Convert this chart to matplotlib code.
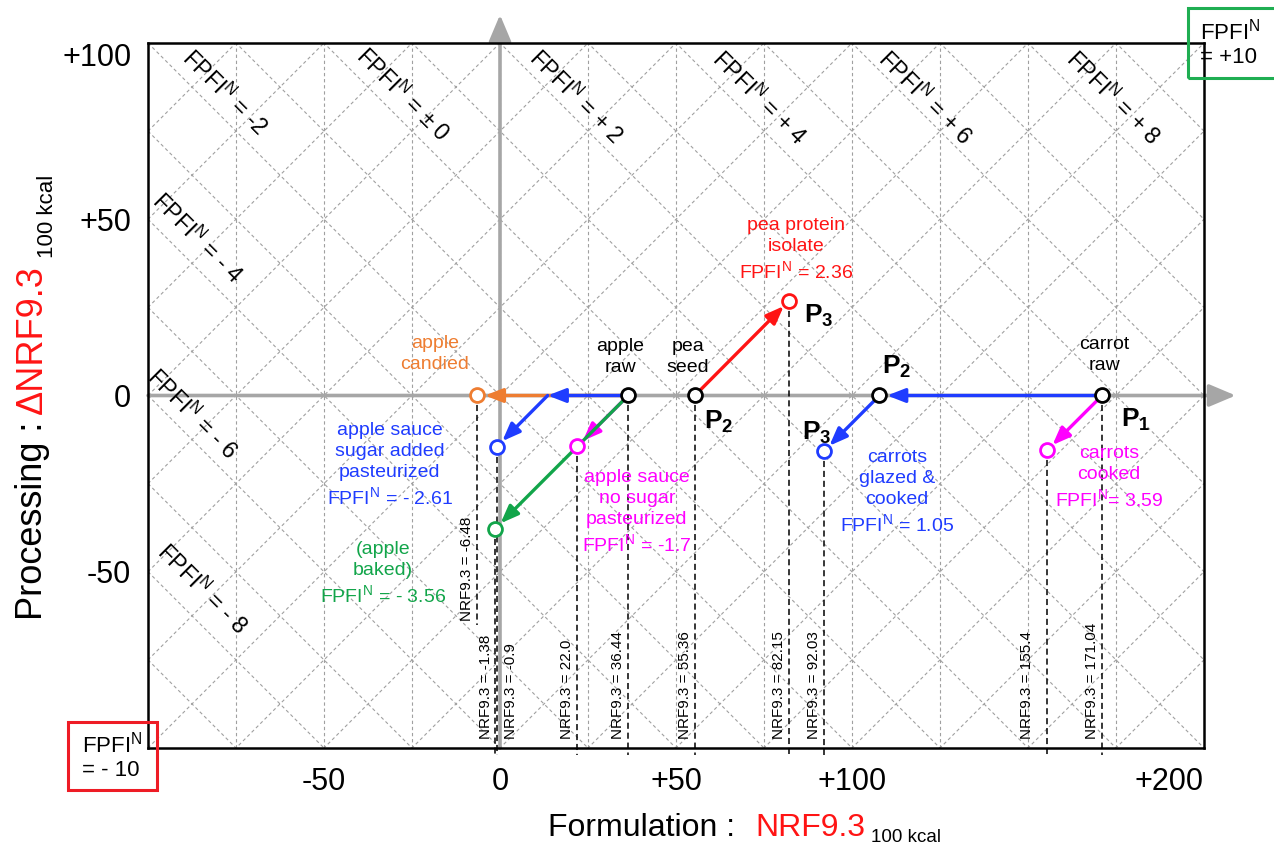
import numpy as np
import matplotlib
matplotlib.use('Agg')
import matplotlib.pyplot as plt
from matplotlib.patches import Rectangle

plt.rcParams['font.family'] = ['Liberation Sans', 'DejaVu Sans']
plt.rcParams['mathtext.fontset'] = 'custom'
plt.rcParams['mathtext.rm'] = 'Liberation Sans'
plt.rcParams['mathtext.bf'] = 'Liberation Sans:bold'
plt.rcParams['mathtext.it'] = 'Liberation Sans:italic'

# raw foods on the formulation axis
raw_labels = ['apple\nraw', 'pea\nseed', 'carrot\nraw']
raw_nrf = [36.44, 55.36, 171.04]

# processing paths: NRF9.3 (x) and delta NRF9.3 (y) of each step
prod_labels = [
    'apple\ncandied',
    'apple sauce\nsugar added\npasteurized\nFPFI$^{\\mathrm{N}}$ = - 2.61',
    'apple sauce\nno sugar\npasteurized\nFPFI$^{\\mathrm{N}}$ = -1.7',
    '(apple\nbaked)\nFPFI$^{\\mathrm{N}}$ = - 3.56',
    'pea protein\nisolate\nFPFI$^{\\mathrm{N}}$ = 2.36',
    'carrots\nglazed &\ncooked\nFPFI$^{\\mathrm{N}}$ = 1.05',
    'carrots\ncooked\nFPFI$^{\\mathrm{N}}$= 3.59',
]
prod_path_x = [[36.44, -6.48], [36.44, 13.54, -0.9], [36.44, 22.0], [36.44, -1.38],
               [55.36, 82.15], [171.04, 107.8, 92.03], [171.04, 155.4]]
prod_path_y = [[0, 0], [0, 0, -14.5], [0, -14.4], [0, -37.8],
               [0, 26.9], [0, 0, -15.8], [0, -15.6]]
prod_colors = ['#ee7d31', '#1f3cff', '#ff00ff', '#12a54a', '#ff1414', '#1f3cff', '#ff00ff']

# NRF9.3 values marked by the dashed drop lines
nrf_text = ['-6.48', '-1.38', '-0.9', '22.0', '36.44', '55.36', '82.15', '92.03', '155.4', '171.04']
nrf_top = [0, -37.8, -14.5, -14.4, 0, 0, 26.9, -15.8, -15.6, 0]

# iso-FPFI lines labels
fpfi_text = ['-2', '\u00b1 0', '+ 2', '+ 4', '+ 6', '+ 8', '- 4', '- 6', '- 8']

# layout of the text (data coordinates)
prod_text_xy = [(-18.5, 11.8), (-31.3, -19.7), (38.9, -33.0), (-33.2, -50.6),
                (84.1, 41.3), (112.8, -27.4), (173.0, -23.4)]
raw_text_xy = [(34.1, 10.9), (53.4, 10.9), (171.6, 11.5)]
p_text = ['$\\mathbf{P_2}$', '$\\mathbf{P_3}$', '$\\mathbf{P_2}$', '$\\mathbf{P_3}$', '$\\mathbf{P_1}$']
p_text_xy = [(62.0, -7.5), (90.5, 22.5), (112.8, 8.0), (90.1, -10.6), (180.6, -7.0)]
fpfi_text_xy = [(-78.4, 85.8), (-27.8, 85.2), (21.6, 84.7), (73.6, 84.4), (120.7, 84.4),
                (174.1, 84.4), (-86.1, 44.7), (-87.5, -5.2), (-84.7, -54.9)]
nrf_label_bottom = [-64.0, -97.5, -97.5, -97.5, -97.5, -97.5, -97.5, -97.5, -97.5, -97.5]
nrf_label_dx = [-3, -2, 7, -3, -3, -3, -3, -3, -13, -3]
nrf_line_bottom = [-65, -102, -102, -102, -102, -102, -102, -102, -102, -102]

W, H = 1274, 847
fig = plt.figure(figsize=(W / 100, H / 100), dpi=100)
ax = fig.add_axes([148 / W, 1 - 748 / H, (1204 - 148) / W, (748 - 43) / H])
ax.set_xlim(-100, 200)
ax.set_ylim(-100, 100)

# dashed grid: verticals and the two diagonal families
grid_gray = '#a0a0a0'
for gx in range(-75, 200, 25):
    ax.axvline(gx, color=grid_gray, lw=0.8, ls=(0, (3, 2.5)), zorder=1)
xx = np.array([-100.0, 200.0])
for c in range(-200, 325, 25):
    ax.plot(xx, c - xx, color=grid_gray, lw=0.8, ls=(0, (3, 2.5)), zorder=1)
    ax.plot(xx, xx - c, color=grid_gray, lw=0.8, ls=(0, (3, 2.5)), zorder=1)

for s, (tx, ty) in zip(fpfi_text, fpfi_text_xy):
    ax.text(tx, ty, 'FPFI$^{\\mathrm{N}}$ = ' + s, rotation=-45, rotation_mode='anchor',
            ha='center', va='center', fontsize=16.5, zorder=6)

# main axes with arrows
axis_gray = '#a6a6a6'
arrow_axis = dict(arrowstyle='-|>,head_length=0.9,head_width=0.38', color=axis_gray,
                  lw=2.6, shrinkA=0, shrinkB=0, mutation_scale=18)
ax.annotate('', xy=(209, 0), xytext=(-100, 0), arrowprops=arrow_axis,
            annotation_clip=False, zorder=2)
ax.annotate('', xy=(0, 108), xytext=(0, -100), arrowprops=arrow_axis,
            annotation_clip=False, zorder=2)

# drop lines with NRF9.3 values
for s, top, bot, lb, dx in zip(nrf_text, nrf_top, nrf_line_bottom, nrf_label_bottom, nrf_label_dx):
    v = float(s)
    ax.plot([v, v], [top, bot], color='black', lw=1.1, ls=(0, (4, 2.5)),
            clip_on=False, zorder=3)
    ax.annotate('NRF9.3 = ' + s, xy=(v, lb), xytext=(dx, 0), textcoords='offset pixels',
                rotation=90, ha='right' if dx < 0 else 'left', va='bottom',
                fontsize=11, zorder=6)

# processing arrows
for px, py, col in zip(prod_path_x, prod_path_y, prod_colors):
    for i in range(len(px) - 1):
        last = i == len(px) - 2
        ends_on_circle = last or (px[i + 1] == 107.8)
        ax.annotate('', xy=(px[i + 1], py[i + 1]), xytext=(px[i], py[i]),
                    arrowprops=dict(arrowstyle='-|>,head_length=0.9,head_width=0.35',
                                    color=col, lw=2.4, shrinkA=0,
                                    shrinkB=5.5 if ends_on_circle else 0,
                                    mutation_scale=12),
                    zorder=4)
    ax.plot(px[-1], py[-1], 'o', ms=10, mfc='white', mec=col, mew=2.0, zorder=5)

# black circles: raw foods and carrot step P2
ax.plot(raw_nrf, [0, 0, 0], 'o', ms=10, mfc='white', mec='black', mew=2.0, zorder=5)
ax.plot(prod_path_x[5][1], prod_path_y[5][1], 'o', ms=10, mfc='white', mec='black',
        mew=2.0, zorder=5)

for lab, (tx, ty) in zip(raw_labels, raw_text_xy):
    ax.text(tx, ty, lab, ha='center', va='center', fontsize=14, linespacing=1.3, zorder=6)
for lab, (tx, ty), col in zip(prod_labels, prod_text_xy, prod_colors):
    ax.text(tx, ty, lab, ha='center', va='center', fontsize=14, linespacing=1.3,
            color=col, zorder=6)
for lab, (tx, ty) in zip(p_text, p_text_xy):
    ax.text(tx, ty, lab, ha='center', va='center', fontsize=19, zorder=6)

# ticks
ax.set_xticks([-50, 0, 50, 100, 200])
ax.set_xticklabels(['-50', '0', '+50', '+100', '+200'])
ax.set_yticks([100, 50, 0, -50])
ax.set_yticklabels(['+100', '+50', '0', '-50'])
ax.tick_params(length=0, labelsize=22)
ax.tick_params(axis='x', pad=14)
ax.tick_params(axis='y', pad=12)
ax.get_xticklabels()[-1].set_ha('right')
ax.get_yticklabels()[0].set_va('top')
for sp in ax.spines.values():
    sp.set_linewidth(1.8)
    sp.set_zorder(7)

# axis titles
fig.text(735 / W, 1 - 836 / H, 'Formulation :', fontsize=23, ha='right', va='baseline')
fig.text(755 / W, 1 - 836 / H, 'NRF9.3', fontsize=23, color='#ff1414', ha='left', va='baseline')
fig.text(871 / W, 1 - 842 / H, '100 kcal', fontsize=13.5, ha='left', va='baseline')
fig.text(42 / W, 1 - 422 / H, 'Processing :', fontsize=26, rotation=90,
         rotation_mode='anchor', ha='right', va='baseline')
fig.text(42 / W, 1 - 414 / H, '\u0394NRF9.3', fontsize=26, rotation=90, color='#ff1414',
         rotation_mode='anchor', ha='left', va='baseline')
fig.text(53 / W, 1 - 258 / H, '100 kcal', fontsize=16, rotation=90,
         rotation_mode='anchor', ha='left', va='baseline')

# corner boxes
fig.add_artist(Rectangle((68 / W, 1 - 790 / H), 89 / W, 68 / H, transform=fig.transFigure,
                         fill=False, ec='#ee1c25', lw=2.2))
fig.text(82 / W, 1 - 756 / H, 'FPFI$^{\\mathrm{N}}$\n= - 10', fontsize=16, ha='left',
         va='center', linespacing=1.15)
fig.add_artist(Rectangle((1188 / W, 1 - 78 / H), 90 / W, 70 / H, transform=fig.transFigure,
                         fill=False, ec='#1fae52', lw=2.2))
fig.text(1200 / W, 1 - 43 / H, 'FPFI$^{\\mathrm{N}}$\n= +10', fontsize=16, ha='left',
         va='center', linespacing=1.15)

fig.savefig('out.png', dpi=100)
